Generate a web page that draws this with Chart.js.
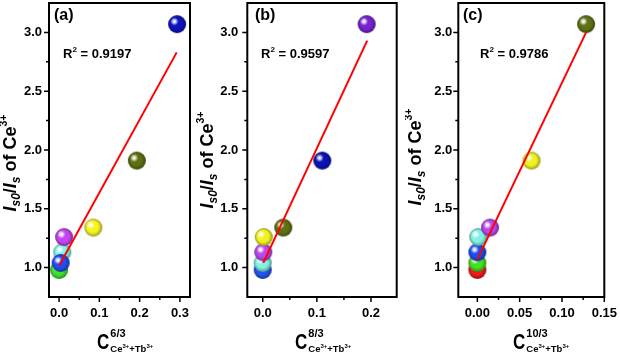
<!DOCTYPE html>
<html><head><meta charset="utf-8">
<script src="https://cdn.jsdelivr.net/npm/chart.js@4.4.0/dist/chart.umd.min.js"></script>
<style>
html,body{margin:0;padding:0;background:#fff;}
#wrap{position:relative;width:620px;height:355px;overflow:hidden;background:#fff;}
canvas{position:absolute;top:0;}
</style></head><body><div id="wrap">
<canvas id="ca"></canvas><canvas id="cb"></canvas><canvas id="cc"></canvas>
</div>
<script>
// ---------- data ----------
const yTicks = [1.0, 1.5, 2.0, 2.5, 3.0];
const yMinorTicks = [1.25, 1.75, 2.25, 2.75];

const xTicksA = [0.0, 0.1, 0.2, 0.3];
const xMinorTicksA = [0.05, 0.15, 0.25];
const xTicksB = [0.0, 0.1, 0.2];
const xMinorTicksB = [0.05, 0.15];
const xTicksC = [0.00, 0.05, 0.10, 0.15];
const xMinorTicksC = [0.025, 0.075, 0.125];

// panel (a): C^(6/3)
const xA = [0.008, 0.000, 0.004, 0.0125, 0.085, 0.193, 0.293];
const yA = [1.13, 0.98, 1.04, 1.26, 1.34, 1.91, 3.07];
const fitXA = [0.0, 0.292];
const fitYA = [1.015, 2.83];
const r2A = '0.9197';
const expA = '6/3';
const labelA = '(a)';

// panel (b): C^(8/3)
const xB = [0.000, 0.000, 0.001, 0.002, 0.038, 0.110, 0.192];
const yB = [0.98, 1.04, 1.13, 1.26, 1.34, 1.91, 3.07];
const fitXB = [0.001, 0.193];
const fitYB = [1.04, 2.93];
const r2B = '0.9597';
const expB = '8/3';
const labelB = '(b)';

// panel (c): C^(10/3)
const xC = [0.000, 0.000, 0.000, 0.001, 0.015, 0.064, 0.1285];
const yC = [0.98, 1.04, 1.13, 1.26, 1.34, 1.91, 3.07];
const fitXC = [0.0, 0.1285];
const fitYC = [1.07, 3.0];
const r2C = '0.9786';
const expC = '10/3';
const labelC = '(c)';

// ---------- styles ----------
const colorsA = ['#82f4e6', '#40e030', '#1f4ef5', '#c545f0', '#f5f522', '#5d7012', '#0c12bd'];
const colorsB = ['#2255f0', '#82f2e2', '#b847ec', '#f2f222', '#5f7213', '#0c12b5', '#7622d2'];
const colorsC = ['#f21a1a', '#45e025', '#1a4cee', '#82f2e2', '#b847ec', '#f2f222', '#5f7213'];

const FONT = "'Liberation Sans', Arial, Helvetica, sans-serif";

function shade(hex, k){
  const n = parseInt(hex.slice(1), 16);
  const r = Math.round(((n>>16)&255)*k), g = Math.round(((n>>8)&255)*k), b = Math.round((n&255)*k);
  return `rgb(${r},${g},${b})`;
}
function sphere(color, r){
  const c = document.createElement('canvas');
  const s = 2*r + 2; c.width = c.height = s;
  const g = c.getContext('2d'); const m = s/2;
  let gr = g.createRadialGradient(m - r*0.25, m - r*0.25, 0, m, m, r);
  gr.addColorStop(0, color); gr.addColorStop(0.65, color); gr.addColorStop(1, shade(color, 0.62));
  g.fillStyle = gr; g.beginPath(); g.arc(m, m, r, 0, Math.PI*2); g.fill();
  gr = g.createRadialGradient(m - r*0.3, m - r*0.3, 0, m - r*0.3, m - r*0.3, r*0.45);
  gr.addColorStop(0, 'rgba(255,255,255,1)'); gr.addColorStop(0.35, 'rgba(255,255,255,0.85)'); gr.addColorStop(1, 'rgba(255,255,255,0)');
  g.fillStyle = gr; g.beginPath(); g.arc(m, m, r, 0, Math.PI*2); g.fill();
  return c;
}
function runs(ctx, list, x, y, align){
  let w = 0;
  list.forEach(r => { ctx.font = r.f; r.w = ctx.measureText(r.t).width; w += r.w; });
  let cx = align === 'center' ? x - w/2 : x;
  list.forEach(r => { ctx.font = r.f; ctx.fillText(r.t, cx, y + (r.dy || 0)); cx += r.w; });
  return w;
}

const panels = [
  {id:'ca', left:0, width:200, areaL:49, areaR:190, xMin:-0.025, xMax:0.325, dec:1, yPad:7,
   xTicks:xTicksA, xMinor:xMinorTicksA, xs:xA, ys:yA, colors:colorsA, fitX:fitXA, fitY:fitYA,
   r2:r2A, exp:expA, label:labelA, r2x:63, labelX:54, titleX:16, titleY:163, cX:97},
  {id:'cb', left:193, width:212, areaL:247.3, areaR:396.7, xMin:-0.0285, xMax:0.2475, dec:1, yPad:9,
   xTicks:xTicksB, xMinor:xMinorTicksB, xs:xB, ys:yB, colors:colorsB, fitX:fitXB, fitY:fitYB,
   r2:r2B, exp:expB, label:labelB, r2x:261, labelX:255, titleX:213, titleY:160, cX:295},
  {id:'cc', left:405, width:215, areaL:458.3, areaR:604.3, xMin:-0.0225, xMax:0.15, dec:2, yPad:6,
   xTicks:xTicksC, xMinor:xMinorTicksC, xs:xC, ys:yC, colors:colorsC, fitX:fitXC, fitY:fitYC,
   r2:r2C, exp:expC, label:labelC, r2x:480, labelX:463, titleX:421, titleY:157, cX:513}
];

const AREA_TOP = 3, AREA_BOTTOM = 297, H = 355;

panels.forEach(p => {
  const cv = document.getElementById(p.id);
  cv.width = p.width; cv.height = H;
  cv.style.left = p.left + 'px'; cv.style.width = p.width + 'px'; cv.style.height = H + 'px';
  const L = p.left;

  const deco = {
    id: 'deco' + p.id,
    afterDraw(chart){
      const {ctx, chartArea: a, scales: {x, y}} = chart;
      ctx.save();
      ctx.strokeStyle = '#000'; ctx.fillStyle = '#000';
      ctx.lineWidth = 1.5;
      ctx.beginPath();
      p.xTicks.forEach(v => { const px = x.getPixelForValue(v); ctx.moveTo(px, a.bottom); ctx.lineTo(px, a.bottom + 5); });
      p.xMinor.forEach(v => { const px = x.getPixelForValue(v); ctx.moveTo(px, a.bottom); ctx.lineTo(px, a.bottom + 3); });
      yTicks.forEach(v => { const py = y.getPixelForValue(v); ctx.moveTo(a.left, py); ctx.lineTo(a.left - 5, py); });
      yMinorTicks.forEach(v => { const py = y.getPixelForValue(v); ctx.moveTo(a.left, py); ctx.lineTo(a.left - 3, py); });
      ctx.stroke();
      ctx.lineWidth = 2;
      ctx.strokeRect(a.left, a.top, a.right - a.left, a.bottom - a.top);

      ctx.textBaseline = 'alphabetic'; ctx.textAlign = 'left';
      // panel label
      ctx.font = `bold 16px ${FONT}`;
      ctx.fillText(p.label, p.labelX - L, 20);
      // R^2
      runs(ctx, [
        {t:'R', f:`bold 13px ${FONT}`},
        {t:'2', f:`bold 8px ${FONT}`, dy:-6},
        {t:' = ' + p.r2, f:`bold 13px ${FONT}`}
      ], p.r2x - L, 58, 'left');
      // y title (rotated)
      ctx.save();
      ctx.translate(p.titleX - L, p.titleY);
      ctx.rotate(-Math.PI/2);
      runs(ctx, [
        {t:'I', f:`italic bold 18px ${FONT}`},
        {t:'s0', f:`italic bold 12px ${FONT}`, dy:4},
        {t:'/', f:`bold 18px ${FONT}`},
        {t:'I', f:`italic bold 18px ${FONT}`},
        {t:'s', f:`italic bold 12px ${FONT}`, dy:4},
        {t:' of Ce', f:`bold 18px ${FONT}`},
        {t:'3+', f:`bold 10.5px ${FONT}`, dy:-9}
      ], 0, 0, 'center');
      ctx.restore();
      // x title
      const cx = p.cX - L;
      ctx.save();
      ctx.translate(cx, 349);
      ctx.scale(1, 1.25);
      ctx.font = `bold 17px ${FONT}`;
      ctx.fillText('C', 0, 0);
      const wC = ctx.measureText('C').width;
      ctx.restore();
      runs(ctx, [{t:p.exp, f:`bold 11px ${FONT}`}], cx + wC + 1, 337, 'left');
      runs(ctx, [
        {t:'Ce', f:`bold 9.5px ${FONT}`},
        {t:'3+', f:`bold 6px ${FONT}`, dy:-4},
        {t:'+Tb', f:`bold 9.5px ${FONT}`},
        {t:'3+', f:`bold 6px ${FONT}`, dy:-4}
      ], cx + wC + 1, 352, 'left');
      ctx.restore();
    }
  };

  const pts = p.xs.map((v, i) => ({x: v, y: p.ys[i]}));
  const fit = p.fitX.map((v, i) => ({x: v, y: p.fitY[i]}));

  new Chart(cv, {
    type: 'scatter',
    data: {
      datasets: [
        {label:'fit', data: fit, showLine: true, borderColor: '#ff0000', borderWidth: 2,
         pointRadius: 0, fill: false, order: 0},
        {label:'data', data: pts, pointStyle: p.colors.map(c => sphere(c, 9)),
         pointRadius: 9, showLine: false, order: 1}
      ]
    },
    options: {
      responsive: false, animation: false, events: [],
      layout: {autoPadding: false, padding: {left: 0, top: AREA_TOP, right: p.width - (p.areaR - L), bottom: 0}},
      plugins: {legend: {display: false}, tooltip: {enabled: false}},
      scales: {
        x: {
          type: 'linear', min: p.xMin, max: p.xMax,
          grid: {display: false, drawTicks: false}, border: {display: false},
          afterBuildTicks: s => { s.ticks = p.xTicks.map(v => ({value: v})); },
          afterFit: s => { s.height = H - AREA_BOTTOM; s.paddingLeft = 0; s.paddingRight = 0; },
          ticks: {color: '#000', padding: 8.5, maxRotation: 0, autoSkip: false,
                  font: {family: FONT, size: 13, weight: 'bold'},
                  callback: v => Number(v).toFixed(p.dec)}
        },
        y: {
          type: 'linear', min: 0.75, max: 3.25,
          grid: {display: false, drawTicks: false}, border: {display: false},
          afterBuildTicks: s => { s.ticks = yTicks.map(v => ({value: v})); },
          afterFit: s => { s.width = p.areaL - L; s.paddingTop = 0; s.paddingBottom = 0; },
          ticks: {color: '#000', padding: p.yPad, autoSkip: false,
                  font: {family: FONT, size: 13, weight: 'bold', lineHeight: 0.01},
                  callback: v => Number(v).toFixed(1)}
        }
      }
    },
    plugins: [deco]
  });
});
</script>
</body></html>
